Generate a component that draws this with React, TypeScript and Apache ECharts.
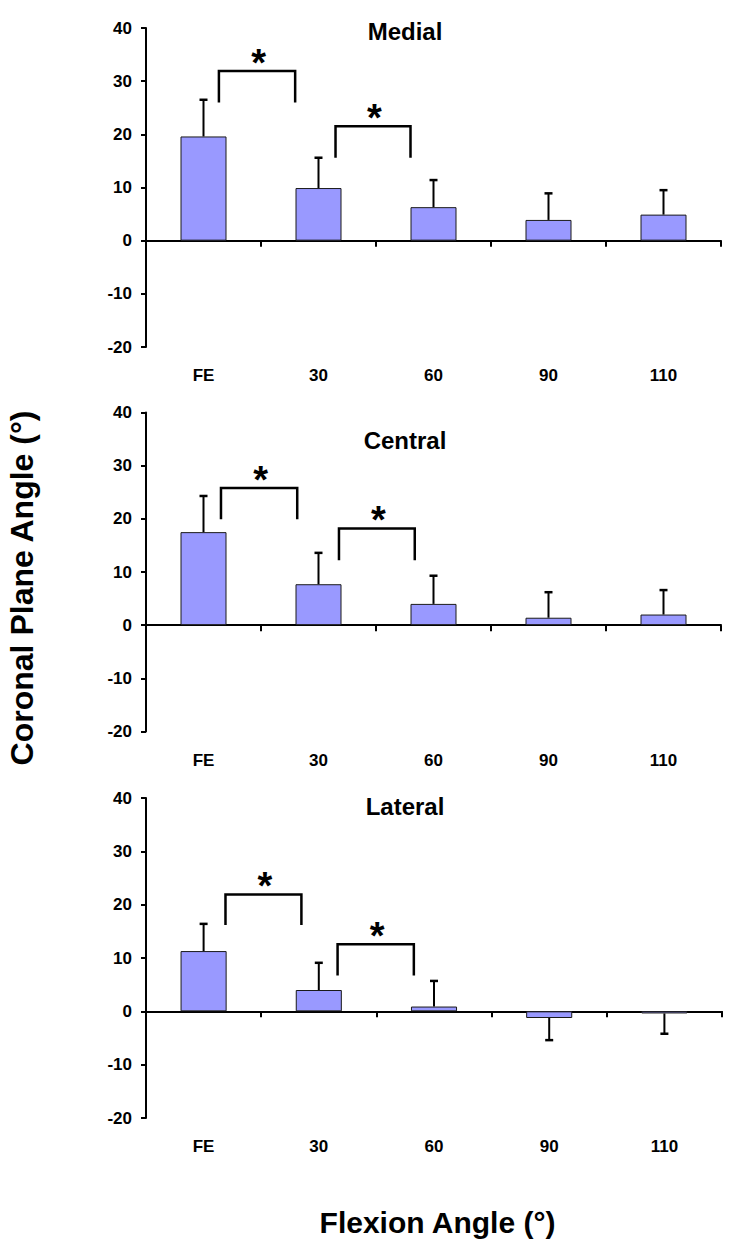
import React, { useEffect, useRef } from "react";
import * as echarts from "echarts";

const FONT = "'Liberation Sans', Arial, Helvetica, sans-serif";

const categories = ["FE", "30", "60", "90", "110"];
const panelTitles = ["Medial", "Central", "Lateral"];

const medialMean = [19.6, 9.9, 6.3, 3.9, 4.9];
const medialSD = [6.9, 5.7, 5.1, 5.0, 4.6];
const centralMean = [17.5, 7.7, 4.0, 1.4, 2.0];
const centralSD = [6.8, 5.9, 5.3, 4.8, 4.6];
const lateralMean = [11.3, 4.0, 0.9, -1.25, -0.4];
const lateralSD = [5.1, 5.1, 4.8, 4.15, 3.8];

// significance brackets: [from (category index), to (category index), top value, leg bottom value]
const medialBrackets = [
  [0.134, 0.797, 31.9, 26.0],
  [1.148, 1.8, 21.5, 15.6],
];
const centralBrackets = [
  [0.152, 0.815, 25.8, 19.9],
  [1.178, 1.837, 18.2, 12.2],
];
const lateralBrackets = [
  [0.19, 0.849, 21.9, 16.2],
  [1.163, 1.825, 12.6, 6.7],
];

const yMin = -20;
const yMax = 40;
const yInterval = 10;

const means = [medialMean, centralMean, lateralMean];
const sds = [medialSD, centralSD, lateralSD];
const brackets = [medialBrackets, centralBrackets, lateralBrackets];

const grids = [
  { left: 146, top: 28, width: 575, height: 319 },
  { left: 146, top: 412.5, width: 575, height: 319 },
  { left: 146, top: 798, width: 576, height: 320 },
];
const titlePos = [
  [405, 31.7],
  [405, 440],
  [405, 806],
];

export default function App() {
  const ref = useRef<HTMLDivElement>(null);

  useEffect(() => {
    if (!ref.current) return;
    const chart = echarts.init(ref.current, undefined, { renderer: "svg" });

    const xAxis: any[] = [];
    const yAxis: any[] = [];
    const series: any[] = [];

    for (let k = 0; k < 3; k++) {
      xAxis.push({
        gridIndex: k,
        type: "category",
        data: categories,
        axisLine: { onZero: true, lineStyle: { color: "#000", width: 2 } },
        axisTick: { show: true, length: 6, lineStyle: { color: "#000", width: 2 } },
        axisLabel: { show: false },
        splitLine: { show: false },
      });
      xAxis.push({
        gridIndex: k,
        type: "category",
        data: categories,
        position: "bottom",
        axisLine: { show: false, onZero: false },
        axisTick: { show: false },
        axisLabel: {
          margin: 20,
          fontSize: 17,
          fontWeight: "bold",
          color: "#000",
          fontFamily: FONT,
        },
        splitLine: { show: false },
      });
      yAxis.push({
        gridIndex: k,
        type: "value",
        min: yMin,
        max: yMax,
        interval: yInterval,
        axisLine: { show: true, lineStyle: { color: "#000", width: 2 } },
        axisTick: { show: true, length: 5, lineStyle: { color: "#000", width: 2 } },
        axisLabel: {
          margin: 14,
          fontSize: 17,
          fontWeight: "bold",
          color: "#000",
          fontFamily: FONT,
        },
        splitLine: { show: false },
      });

      const m = means[k];
      const s = sds[k];
      series.push({
        type: "bar",
        xAxisIndex: 2 * k,
        yAxisIndex: k,
        data: m,
        barWidth: "40%",
        itemStyle: { color: "#9999ff", borderColor: "#1a1a1a", borderWidth: 1 },
        z: 2,
      });
      series.push({
        type: "custom",
        xAxisIndex: 2 * k,
        yAxisIndex: k,
        z: 3,
        data: m.map((v, i) => [i, v, v + (v >= 0 ? s[i] : -s[i])]),
        renderItem: (params: any, api: any) => {
          const i = api.value(0);
          const v = api.value(1);
          const e = api.value(2);
          const p0 = api.coord([i, v]);
          const p1 = api.coord([i, e]);
          return {
            type: "group",
            children: [
              {
                type: "line",
                shape: { x1: p0[0], y1: p0[1], x2: p1[0], y2: p1[1] },
                style: { stroke: "#000", lineWidth: 2 },
              },
              {
                type: "line",
                shape: { x1: p1[0] - 4, y1: p1[1], x2: p1[0] + 4, y2: p1[1] },
                style: { stroke: "#000", lineWidth: 2.5 },
              },
            ],
          };
        },
      });
      series.push({
        type: "custom",
        xAxisIndex: 2 * k,
        yAxisIndex: k,
        z: 4,
        clip: false,
        data: brackets[k].map((b) => [0, b[0], b[1], b[2], b[3]]),
        renderItem: (params: any, api: any) => {
          const a = api.value(1);
          const b = api.value(2);
          const t = api.value(3);
          const bt = api.value(4);
          const o = api.coord([0, t]);
          const band = api.size([1, 0])[0];
          const xa = o[0] + a * band;
          const xb = o[0] + b * band;
          const yt = o[1];
          const yb = api.coord([0, bt])[1];
          const fs = 38;
          return {
            type: "group",
            children: [
              {
                type: "polyline",
                shape: {
                  points: [
                    [xa, yb],
                    [xa, yt],
                    [xb, yt],
                    [xb, yb],
                  ],
                },
                style: { stroke: "#000", lineWidth: 2.5, fill: null },
              },
              {
                type: "text",
                x: (xa + xb) / 2 + 1.5,
                y: yt - 16 + 0.2 * fs,
                style: {
                  text: "*",
                  fontSize: fs,
                  fontWeight: "bold",
                  fontFamily: FONT,
                  fill: "#000",
                  align: "center",
                  verticalAlign: "middle",
                },
              },
            ],
          };
        },
      });
    }

    const graphic: any[] = panelTitles.map((t, k) => ({
      type: "text",
      x: titlePos[k][0],
      y: titlePos[k][1],
      style: {
        text: t,
        fontSize: 24,
        fontWeight: "bold",
        fontFamily: FONT,
        fill: "#000",
        align: "center",
        verticalAlign: "middle",
      },
    }));
    graphic.push({
      type: "text",
      x: 22,
      y: 588,
      rotation: Math.PI / 2,
      style: {
        text: "Coronal Plane Angle (°)",
        fontSize: 32,
        fontWeight: "bold",
        fontFamily: FONT,
        fill: "#000",
        align: "center",
        verticalAlign: "middle",
      },
    });
    graphic.push({
      type: "text",
      x: 437.5,
      y: 1222,
      style: {
        text: "Flexion Angle (°)",
        fontSize: 30,
        fontWeight: "bold",
        fontFamily: FONT,
        fill: "#000",
        align: "center",
        verticalAlign: "middle",
      },
    });

    chart.setOption({
      animation: false,
      backgroundColor: "#fff",
      grid: grids,
      xAxis,
      yAxis,
      series,
      graphic,
    });

    return () => chart.dispose();
  }, []);

  return (
    <div
      ref={ref}
      style={{ position: "absolute", left: 0, top: 0, width: 750, height: 1254 }}
    />
  );
}
